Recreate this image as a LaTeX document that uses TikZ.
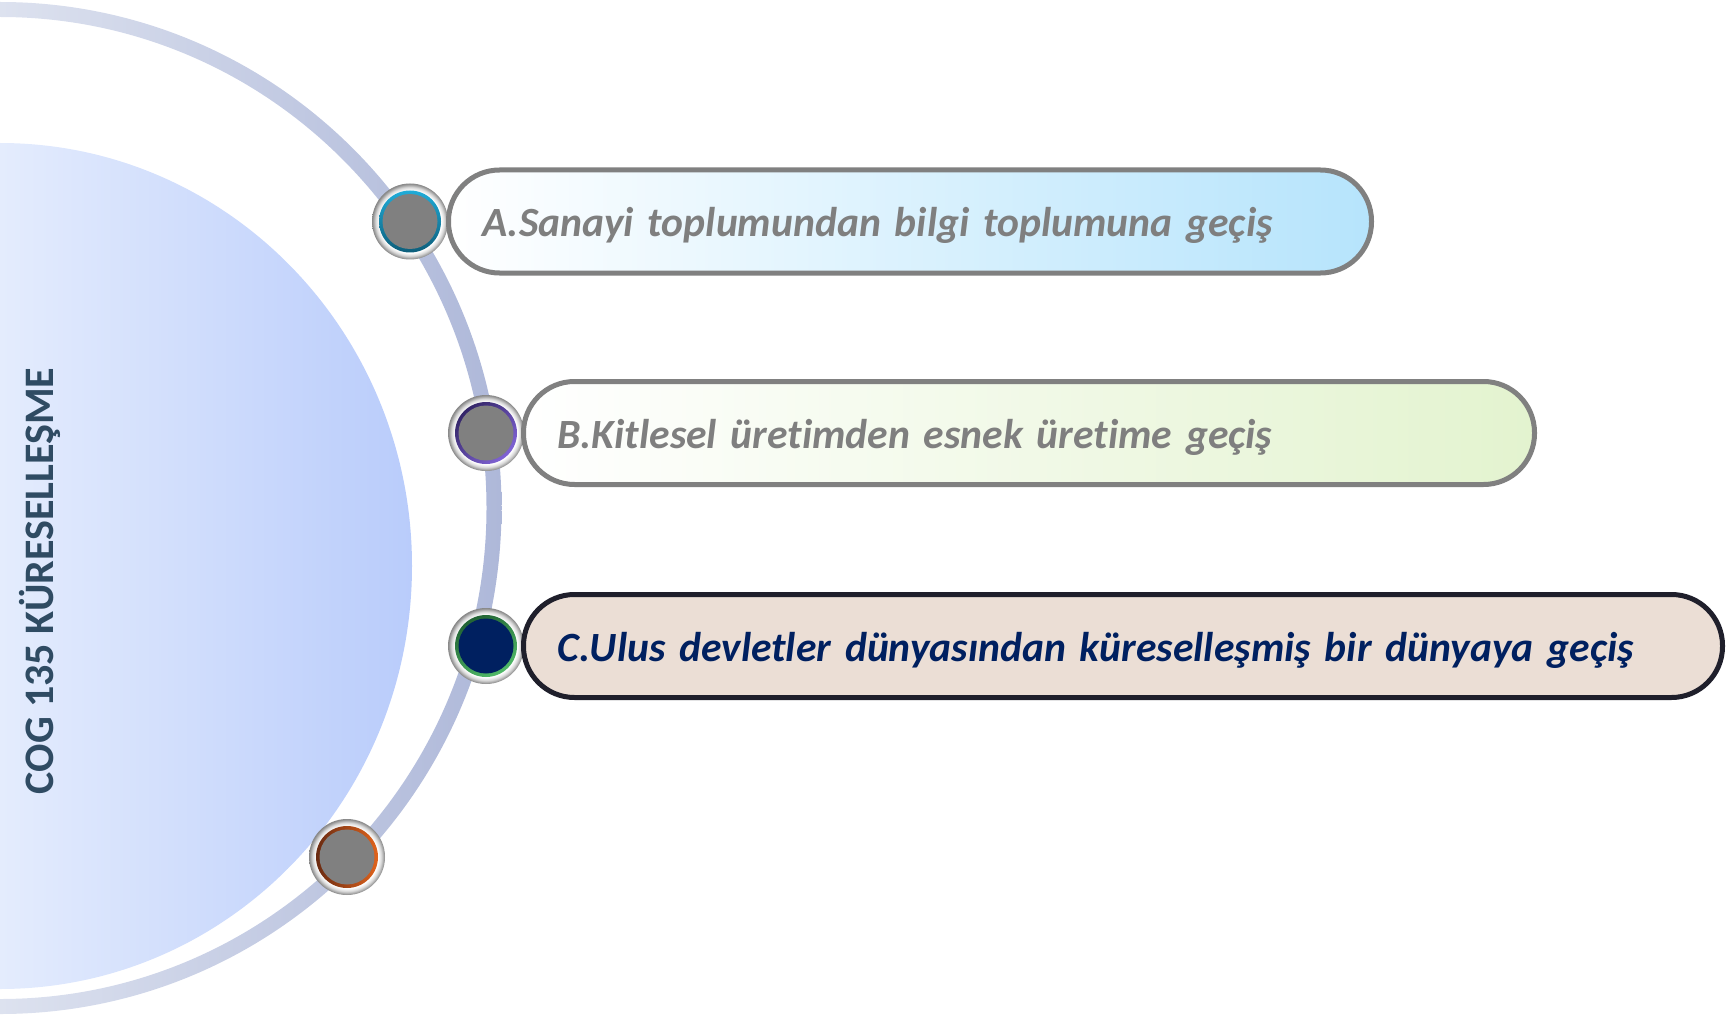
\documentclass[tikz,border=0pt]{standalone}
\usepackage{fontspec}
\setmainfont{Carlito}[Ligatures=NoCommon]
\usetikzlibrary{positioning}
\definecolor{bandL}{HTML}{DDE2EF}
\definecolor{bandR}{HTML}{AEB8D9}
\definecolor{discL}{HTML}{E4ECFD}
\definecolor{discR}{HTML}{B9CCFB}
\definecolor{titlecol}{HTML}{2F4B63}
\definecolor{rimgray}{HTML}{858585}
\definecolor{coregray}{HTML}{808080}
\definecolor{edgegray}{HTML}{808080}
\definecolor{txtgray}{HTML}{7F7F7F}
\definecolor{navy}{HTML}{002060}
\definecolor{skyA}{HTML}{B6E4FC}
\definecolor{limeB}{HTML}{E3F3CF}
\definecolor{sandC}{HTML}{EBDED5}
\definecolor{inkC}{HTML}{1F1F2B}
\definecolor{ringAt}{HTML}{22B5E3}
\definecolor{ringAb}{HTML}{0B5570}
\definecolor{ringBt}{HTML}{2B1F5C}
\definecolor{ringBb}{HTML}{8A6BE3}
\definecolor{ringCt}{HTML}{1C5A2E}
\definecolor{ringCb}{HTML}{56C46E}
\definecolor{ringDt}{HTML}{5C2410}
\definecolor{ringDb}{HTML}{EE6A1E}
\pgfdeclareradialshading{rim}{\pgfpoint{0bp}{0bp}}{color(0bp)=(white); color(20.5bp)=(white); color(22.5bp)=(rimgray!30); color(25bp)=(rimgray); color(50bp)=(rimgray)}

\begin{document}
\begin{tikzpicture}[
    x=1pt, y=1pt,
    knob/.style n args={4}{circle, minimum size=76pt, inner sep=0pt, outer sep=0pt, shade, shading=rim,
      path picture={
        \shade[top color=#1, bottom color=#2, shading angle=#3] (path picture bounding box.center) circle[radius=31pt];
        \fill[#4] (path picture bounding box.center) circle[radius=27.5pt];}},
    pill/.style={rectangle, rounded corners=51pt, line width=5pt, minimum height=103pt,
      inner xsep=34pt, inner ysep=0pt, text width=#1, text height=32pt, text depth=2pt, align=left,
      font=\fontsize{41.6}{50}\selectfont\bfseries\itshape},
    title/.style={font=\fontsize{42}{50}\selectfont\bfseries, text=titlecol, rotate=90}
  ]
    \useasboundingbox (0,0) rectangle (1728,-1016);
    % outer band and inner disc
    \shade[left color=bandL, right color=bandR] (0,-2) arc[start angle=90, end angle=-90, x radius=501.5pt, y radius=506pt]
      -- (0,-999) arc[start angle=-90, end angle=90, x radius=486.5pt, y radius=491pt] -- cycle;
    \shade[left color=discL, right color=discR] (0,-143) arc[start angle=90, end angle=-90, x radius=412pt, y radius=423pt] -- cycle;
    \node[title] (ttl) at (40,-581) {COG 135 KÜRESELLEŞME};
    % knobs on the band
    \node[knob={ringAt}{ringAb}{0}{coregray}] (cA) at (410,-221.5) {};
    \node[knob={ringBt}{ringBb}{45}{coregray}] (cB) at (486,-433) {};
    \node[knob={ringCt}{ringCb}{30}{navy}] (cC) at (486,-646) {};
    \node[knob={ringDt}{ringDb}{90}{coregray}] (cD) at (347,-857) {};
    % steps
    \node[pill=855pt, draw=edgegray, left color=white, right color=skyA, text=txtgray, right=-2pt of cA] (pA) {A.Sanayi toplumundan bilgi toplumuna geçiş};
    \node[pill=943pt, draw=edgegray, left color=white, right color=limeB, text=txtgray, right=-3pt of cB] (pB) {B.Kitlesel üretimden esnek üretime geçiş};
    \node[pill=1131pt, draw=inkC, fill=sandC, text=navy, right=-3pt of cC] (pC) {C.Ulus devletler dünyasından küreselleşmiş bir dünyaya geçiş};
\end{tikzpicture}
\end{document}
